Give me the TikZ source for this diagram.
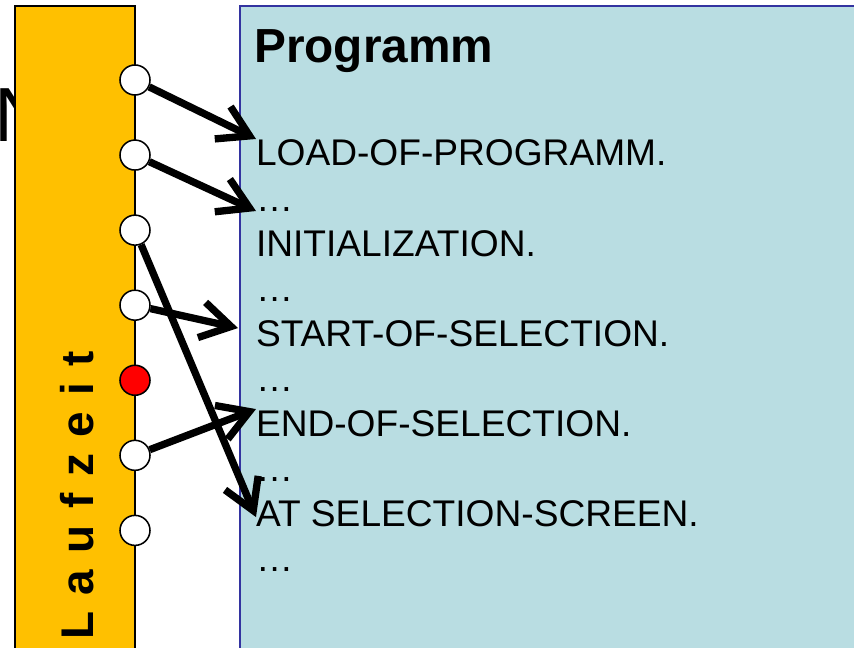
\documentclass[tikz,border=0pt]{standalone}
\usepackage{fontspec}
\setmainfont{Liberation Sans}
\newfontfamily\spacedfont[LetterSpace=36]{Liberation Sans}
\usepackage{xcolor}
\usetikzlibrary{arrows.meta, positioning, calc}

\definecolor{barorange}{RGB}{255,192,0}
\definecolor{progblue}{RGB}{185,221,226}
\definecolor{frameblue}{RGB}{51,51,160}

\begin{document}
\begin{tikzpicture}[
    x=0.025cm, y=-0.025cm,
    event/.style={circle, draw, line width=1.1pt, fill=white, minimum size=0.75cm, inner sep=0pt},
    stmt/.style={inner sep=0pt, outer sep=0pt, text height=0.675cm, text depth=0.225cm, font=\fontsize{26.4}{30}\selectfont},
    jump/.style={-{Straight Barb[length=0.75cm, width=0.9cm]}, line width=5.2pt}
]
    \useasboundingbox (0,0) rectangle (854,648);
    \clip (0,0) rectangle (854,648);

    % Program box
    \draw[frameblue, fill=progblue, line width=0.8pt] (240,6) rectangle (880,680);
    \node[anchor=base west, inner sep=0pt, font=\fontsize{34}{40}\selectfont\bfseries] (title) at (254,63) {Programm};

    % Statements
    \node[stmt, anchor=base west] (l1) at (256,166) {LOAD-OF-PROGRAMM.};
    \node[stmt, below=0.225cm of l1.south west, anchor=north west] (d1) {…};
    \node[stmt, below=0.225cm of d1.south west, anchor=north west] (l2) {INITIALIZATION.};
    \node[stmt, below=0.225cm of l2.south west, anchor=north west] (d2) {…};
    \node[stmt, below=0.225cm of d2.south west, anchor=north west] (l3) {START-OF-SELECTION.};
    \node[stmt, below=0.225cm of l3.south west, anchor=north west] (d3) {…};
    \node[stmt, below=0.225cm of d3.south west, anchor=north west] (l4) {END-OF-SELECTION.};
    \node[stmt, below=0.225cm of l4.south west, anchor=north west] (d4) {…};
    \node[stmt, below=0.225cm of d4.south west, anchor=north west] (l5) {AT SELECTION-SCREEN.};
    \node[stmt, below=0.225cm of l5.south west, anchor=north west] (d5) {…};

    % Cut-off letter behind the bar
    \node[anchor=base west, inner sep=0pt, font=\fontsize{54.6}{60}\selectfont] (cut) at (-6,142) {N};

    % Runtime bar
    \draw[fill=barorange, line width=1.1pt] (15,6) rectangle (135,680);
    \node[rotate=90, anchor=base west, inner sep=0pt, font=\fontsize{32.6}{40}\selectfont\spacedfont\bfseries] (runtime) at (93,640) {Laufzeit};

    % Events
    \node[event] (e1) at (135,80) {};
    \node[event, below=1.0875cm of e1] (e2) {};
    \node[event, below=1.0875cm of e2] (e3) {};
    \node[event, below=1.0875cm of e3] (e4) {};
    \node[event, fill=red, below=1.0875cm of e4] (e5) {};
    \node[event, below=1.0875cm of e5] (e6) {};
    \node[event, below=1.0875cm of e6] (e7) {};

    % Jumps into the program
    \draw[jump] (e1) -- (l1.north west);
    \draw[jump] (e2) -- (d1.base west);
    \draw[jump] (e3) -- (l5.west);
    \draw[jump] (e4) -- ($(l3.north west)+(-18,9)$);
    \draw[jump] (e6) -- (l4.north west);
\end{tikzpicture}
\end{document}
